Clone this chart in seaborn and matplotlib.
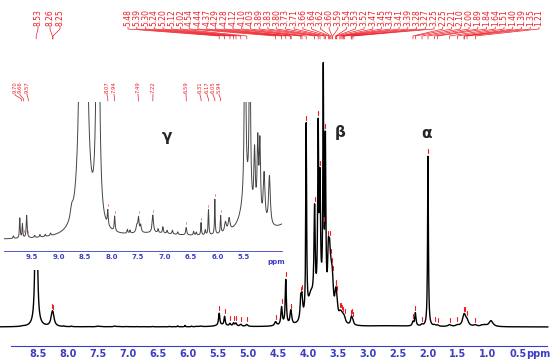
import numpy as np
import pandas as pd
import seaborn as sns
import matplotlib
matplotlib.use("Agg")
import matplotlib.pyplot as plt
from matplotlib.patches import Rectangle

# 峰的位置(ppm)、高度(主图里基线以上的像素)、半峰宽(ppm)
peak_ppm = [8.53, 8.265, 8.25, 5.48, 5.39, 5.30, 5.24, 5.20, 5.12, 5.02,
            4.54, 4.44, 4.37, 4.29, 4.28, 4.12, 4.10, 4.03, 3.95, 3.89,
            3.83, 3.80, 3.745, 3.71, 3.66, 3.64, 3.62, 3.60, 3.59, 3.54,
            3.53, 3.52, 3.47, 3.45, 3.43, 3.41, 3.39, 3.28, 3.27, 3.25,
            2.25, 2.21, 2.10, 2.00, 1.89, 1.84, 1.64, 1.51, 1.40, 1.39,
            1.35, 1.21, 1.10, 1.05, 0.95, 3.78, 2.60]
peak_height = [400, 8.5, 8.5, 12, 9, 2.5, 3, 3, 2, 2,
               4, 18, 45, 8, 8, 20, 20, 190, 25, 95,
               170, 110, 225, 160, 50, 40, 25, 20, 15, 14,
               10, 10, 5, 5, 4, 4, 4, 4, 5, 3,
               4, 13, 1.5, 170, 1.2, 1.2, 1.8, 1.2, 8, 4,
               5, 1.5, 1.2, 1.2, 6, 20, 1.0]
peak_width = [0.011, 0.025, 0.025, 0.012, 0.012, 0.015, 0.015, 0.015, 0.02, 0.02,
              0.02, 0.014, 0.011, 0.014, 0.014, 0.014, 0.014, 0.008, 0.06, 0.012,
              0.010, 0.010, 0.008, 0.009, 0.015, 0.015, 0.02, 0.02, 0.02, 0.02,
              0.02, 0.02, 0.02, 0.02, 0.02, 0.02, 0.02, 0.015, 0.015, 0.015,
              0.015, 0.012, 0.02, 0.008, 0.02, 0.02, 0.03, 0.03, 0.03, 0.03,
              0.03, 0.03, 0.03, 0.03, 0.04, 0.08, 0.35]

# 芳香区的弱峰和噪声（只在放大插图里看得到）
weak_ppm = [9.85, 9.73, 9.68, 9.60, 9.45, 9.35, 9.25, 9.15, 8.75, 8.07,
            7.94, 7.70, 7.65, 7.52, 7.49, 7.45, 7.22, 7.12, 7.03, 6.95,
            6.85, 6.75, 6.59, 6.45, 6.40, 6.31, 6.23, 6.17, 6.05, 5.94,
            5.85, 5.78, 7.20, 5.45]
weak_height = [0.1, 0.8, 0.55, 0.9, 0.08, 0.1, 0.08, 0.1, 0.4, 0.6,
               0.6, 0.15, 0.12, 0.3, 0.55, 0.3, 0.7, 0.15, 0.25, 0.12,
               0.15, 0.1, 0.3, 0.15, 0.12, 0.5, 0.2, 1.0, 1.4, 0.7,
               0.4, 0.5, 0.2, 1.5]
weak_width = [0.01, 0.008, 0.008, 0.01, 0.01, 0.01, 0.01, 0.01, 0.03, 0.01,
              0.01, 0.01, 0.01, 0.02, 0.012, 0.015, 0.015, 0.01, 0.01, 0.01,
              0.01, 0.01, 0.012, 0.01, 0.01, 0.008, 0.01, 0.008, 0.007, 0.008,
              0.02, 0.02, 0.6, 0.12]

group_labels = ["8.53", "8.26", "8.25"]
main_labels = ["5.48", "5.39", "5.30", "5.24", "5.20", "5.12", "5.02", "4.54",
               "4.44", "4.37", "4.29", "4.28", "4.12", "4.10", "4.03", "3.89",
               "3.83", "3.80", "3.73", "3.71", "3.66", "3.64", "3.62", "3.60",
               "3.59", "3.54", "3.53", "3.52", "3.47", "3.45", "3.43", "3.41",
               "3.39", "3.28", "3.27", "3.25", "2.25", "2.21", "2.10", "2.00",
               "1.89", "1.84", "1.64", "1.51", "1.40", "1.39", "1.35", "1.21"]
inset_labels = ["9.70", "9.66", "9.57", "8.07", "7.94", "7.49", "7.22",
                "6.59", "6.31", "6.17", "6.05", "5.94"]

main_ticks = [8.5, 8.0, 7.5, 7.0, 6.5, 6.0, 5.5, 5.0, 4.5, 4.0, 3.5, 3.0, 2.5, 2.0, 1.5, 1.0, 0.5]
inset_ticks = [9.5, 9.0, 8.5, 8.0, 7.5, 7.0, 6.5, 6.0, 5.5]
greek = ["γ", "β", "α"]

INSET_SCALE = 25
BLUE = "#3c3cc8"
RED = "#ee1c24"


def spectrum(x, ppm, h, w):
    y = np.zeros_like(x)
    for p, hh, ww in zip(ppm, h, w):
        y += hh / (1 + ((x - p) / ww) ** 2)
    return y


x = np.arange(0.0, 10.1, 0.001)
y_main = spectrum(x, peak_ppm, peak_height, peak_width) + spectrum(x, weak_ppm, weak_height, weak_width)
df = pd.DataFrame({"ppm": x, "main": y_main, "inset": y_main * INSET_SCALE})


def at(p):
    return float(np.interp(p, x, y_main))


sns.set_style("white")
plt.rcParams["font.family"] = ["DejaVu Sans"]

fig = plt.figure(figsize=(5.5, 3.64), dpi=100)
ax = fig.add_axes([0, 0, 1, 1])

# 主谱图 —— x: 像素 -> ppm, y: 基线以上像素
sns.lineplot(data=df, x="ppm", y="main", ax=ax, color="black", lw=1.0,
             estimator=None, sort=False, zorder=2)
ax.set_xlim(8.5 + 38 / 60, 8.5 - 512 / 60)
ax.set_ylim(-37, 327)
ax.set_xlabel("")
ax.set_ylabel("")
ax.set_yticks([])
for s in ["top", "left", "right"]:
    ax.spines[s].set_visible(False)
ax.spines["bottom"].set_position(("data", -19))
ax.spines["bottom"].set_bounds(0.02, 8.95)
ax.spines["bottom"].set_color(BLUE)
ax.spines["bottom"].set_linewidth(0.8)
ax.set_xticks(main_ticks)
ax.set_xticklabels([f"{t:.1f}" for t in main_ticks])
ax.set_xticks(np.round(np.arange(0.1, 8.95, 0.1), 1), minor=True)
ax.tick_params(axis="x", which="both", direction="in", colors=BLUE, width=0.6,
               labelsize=7, pad=2)
ax.tick_params(axis="x", which="major", length=4)
ax.tick_params(axis="x", which="minor", length=2)
for lab in ax.get_xticklabels():
    lab.set_fontweight("bold")
ax.text(0.16, -27, "ppm", color=BLUE, fontsize=7, fontweight="bold", ha="center", va="center")

# 插图区域遮挡
ax.add_patch(Rectangle((4.367, 57), 9.2 - 4.367, 280, facecolor="white",
                       edgecolor="none", zorder=4))

# 峰标记
all_labels = group_labels + main_labels
for lab in all_labels:
    p = float(lab)
    yy = at(p)
    ax.plot([p, p], [yy + 3, yy + 7], color=RED, lw=0.8, zorder=3)


# 顶部标签和连线
def px2ppm(px):
    return 8.5 - (px - 38) / 60


label_px = [38, 50, 60] + list(np.linspace(128, 539, len(main_labels)))
for lab, lx in zip(all_labels, label_px):
    pl = px2ppm(lx)
    pp = float(lab)
    ax.text(pl, 301, lab, rotation=90, ha="center", va="bottom", fontsize=5.5,
            color=RED, zorder=5)
    ax.plot([pl, pl, pp, pp], [300, 298, 291, 288], color=RED, lw=0.5, zorder=5)

ax.text(px2ppm(340), 195, greek[1], fontsize=11, fontweight="bold", ha="center", va="center")
ax.text(px2ppm(426), 194, greek[2], fontsize=11, fontweight="bold", ha="center", va="center")

# 插图
ins = fig.add_axes([4 / 550, (364 - 251) / 364, 278 / 550, 149 / 364])
sns.lineplot(data=df, x="ppm", y="inset", ax=ins, color="#444444", lw=0.7,
             estimator=None, sort=False)
ins.set_xlim(9.5 + 28 / 53, 9.5 - 250 / 53)
ins.set_ylim(-11, 138)
ins.set_xlabel("")
ins.set_ylabel("")
ins.set_yticks([])
ins.set_facecolor("white")
for s in ["top", "left", "right"]:
    ins.spines[s].set_visible(False)
ins.spines["bottom"].set_color(BLUE)
ins.spines["bottom"].set_linewidth(0.6)
ins.set_xticks(inset_ticks)
ins.set_xticklabels([f"{t:.1f}" for t in inset_ticks])
ins.set_xticks(np.round(np.arange(4.8, 10.01, 0.1), 1), minor=True)
ins.tick_params(axis="x", which="both", direction="in", colors=BLUE, width=0.5,
                labelsize=5, pad=2)
ins.tick_params(axis="x", which="major", length=3)
ins.tick_params(axis="x", which="minor", length=1.5)
for lab in ins.get_xticklabels():
    lab.set_fontweight("bold")
ins.text(4.9, -22, "ppm", color=BLUE, fontsize=5, fontweight="bold",
         ha="center", va="center", clip_on=False)
ins.text(9.5 - (167 - 32) / 53, 103, greek[0], fontsize=11, fontweight="bold",
         ha="center", va="center")


# 插图标签
def ipx2ppm(px):
    return 9.5 - (px - 32) / 53


inset_px = [15, 20, 27, 107, 114, 138, 153, 186, 200, 207, 213, 219]
for lab, lx in zip(inset_labels, inset_px):
    pl = ipx2ppm(lx)
    pp = float(lab)
    ins.text(pl, 147, lab, rotation=90, ha="center", va="bottom", fontsize=3.8,
             color=RED, clip_on=False)
    ins.plot([pl, pl, pp, pp], [146, 145, 141, 139], color=RED, lw=0.5, clip_on=False)
    yy = at(pp) * INSET_SCALE
    ins.plot([pp, pp], [yy + 3, yy + 5], color="#ff7070", lw=0.6)

fig.savefig("out.png", dpi=100)
